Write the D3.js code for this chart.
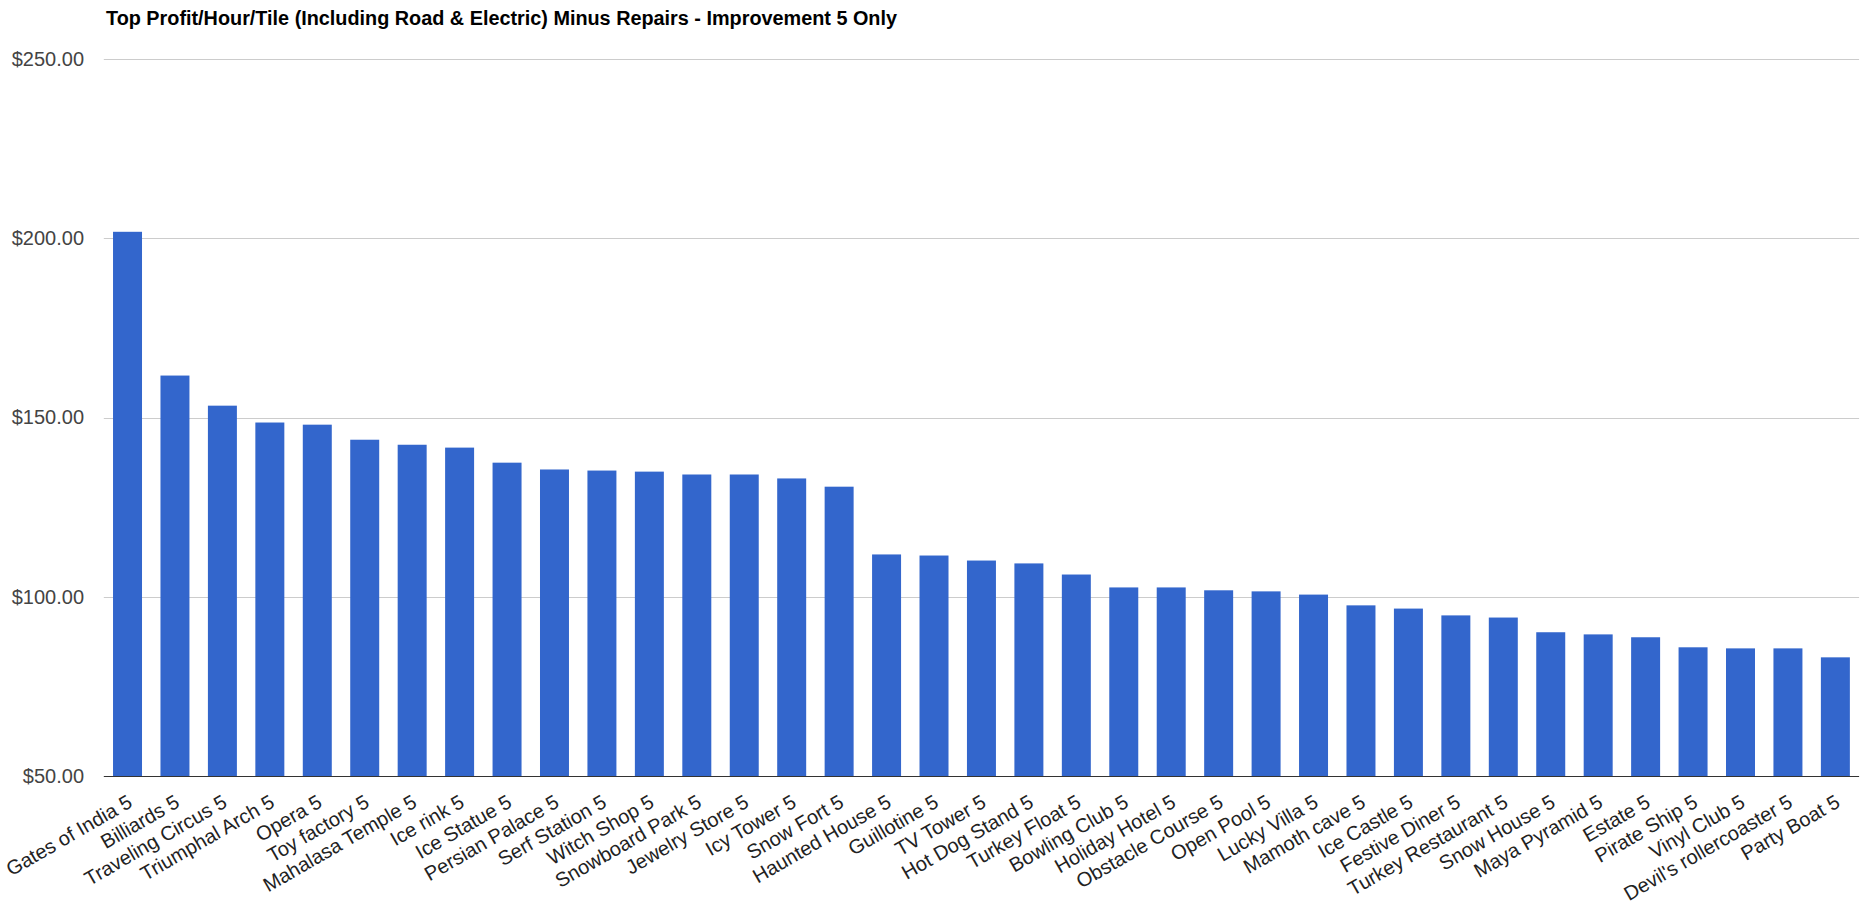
<!DOCTYPE html>
<html>
<head>
<meta charset="utf-8">
<script src="https://cdn.jsdelivr.net/npm/d3@7"></script>
<style>
  html, body { margin: 0; padding: 0; background: #fff; }
  svg { display: block; }
</style>
</head>
<body>
<svg id="chart" width="1868" height="904"></svg>
<script>
const chartTitle = "Top Profit/Hour/Tile (Including Road & Electric) Minus Repairs - Improvement 5 Only";

const categories = [
  "Gates of India 5", "Billiards 5", "Traveling Circus 5", "Triumphal Arch 5", "Opera 5",
  "Toy factory 5", "Mahalasa Temple 5", "Ice rink 5", "Ice Statue 5", "Persian Palace 5",
  "Serf Station 5", "Witch Shop 5", "Snowboard Park 5", "Jewelry Store 5", "Icy Tower 5",
  "Snow Fort 5", "Haunted House 5", "Guillotine 5", "TV Tower 5", "Hot Dog Stand 5",
  "Turkey Float 5", "Bowling Club 5", "Holiday Hotel 5", "Obstacle Course 5", "Open Pool 5",
  "Lucky Villa 5", "Mamoth cave 5", "Ice Castle 5", "Festive Diner 5", "Turkey Restaurant 5",
  "Snow House 5", "Maya Pyramid 5", "Estate 5", "Pirate Ship 5", "Vinyl Club 5",
  "Devil's rollercoaster 5", "Party Boat 5"
];

const values = [
  201.8, 161.7, 153.3, 148.6, 148.0,
  143.8, 142.4, 141.6, 137.4, 135.5,
  135.2, 134.9, 134.1, 134.1, 133.0,
  130.7, 111.8, 111.5, 110.1, 109.3,
  106.2, 102.6, 102.6, 101.8, 101.5,
  100.6, 97.6, 96.7, 94.8, 94.2,
  90.1, 89.5, 88.7, 85.9, 85.6,
  85.6, 83.1
];

const yTicks = [50, 100, 150, 200, 250];
const yDomain = [50, 250];

const svg = d3.select("#chart");
const plotLeft = 103.8, plotRight = 1859.1, plotTop = 59, plotBottom = 776;

const x = d3.scaleBand()
  .domain(categories)
  .range([plotLeft, plotRight])
  .paddingInner(0.389)
  .paddingOuter(0.1945);

const y = d3.scaleLinear().domain(yDomain).range([plotBottom, plotTop]);
const fmt = d => "$" + d3.format(",.2f")(d);

// gridlines
svg.append("g")
  .selectAll("line")
  .data(yTicks.filter(t => t !== yDomain[0]))
  .join("line")
  .attr("x1", plotLeft).attr("x2", plotRight)
  .attr("y1", d => Math.round(y(d)) + 0.5)
  .attr("y2", d => Math.round(y(d)) + 0.5)
  .attr("stroke", "#cccccc")
  .attr("stroke-width", 1);

// y axis labels via d3 axis
const yAxis = d3.axisLeft(y).tickValues(yTicks).tickFormat(fmt).tickSize(0).tickPadding(0);
const yg = svg.append("g").attr("transform", "translate(84,0)").call(yAxis);
yg.select(".domain").remove();
yg.selectAll("text")
  .attr("font-family", "Arial, 'Liberation Sans', sans-serif")
  .attr("font-size", 20)
  .attr("fill", "#444444");

// bars
svg.append("g")
  .selectAll("rect")
  .data(values)
  .join("rect")
  .attr("x", (d, i) => x(categories[i]))
  .attr("width", x.bandwidth())
  .attr("y", d => y(d))
  .attr("height", d => y(yDomain[0]) - y(d))
  .attr("fill", "#3366cc");

// baseline
svg.append("line")
  .attr("x1", plotLeft).attr("x2", plotRight)
  .attr("y1", plotBottom + 0.5).attr("y2", plotBottom + 0.5)
  .attr("stroke", "#333333")
  .attr("stroke-width", 1);

// x axis labels (rotated)
const xAxis = d3.axisBottom(x).tickSize(0).tickPadding(0);
const xg = svg.append("g").attr("transform", `translate(0,${plotBottom})`).call(xAxis);
xg.select(".domain").remove();
xg.selectAll(".tick text")
  .attr("font-family", "Arial, 'Liberation Sans', sans-serif")
  .attr("font-size", 20)
  .attr("fill", "#222222")
  .attr("text-anchor", "end")
  .attr("dy", null)
  .attr("x", null).attr("y", null)
  .attr("transform", "translate(6,30) rotate(-30)");

// title
const title = svg.append("text")
  .attr("x", 106)
  .attr("y", 25)
  .attr("font-family", "Arial, 'Liberation Sans', sans-serif")
  .attr("font-weight", "bold")
  .attr("font-size", 20)
  .attr("fill", "#000000")
  .text(chartTitle);
const tl = title.node().getComputedTextLength();
if (Math.abs(tl - 791) > 2) {
  title.attr("textLength", 791).attr("lengthAdjust", "spacingAndGlyphs");
}
</script>
</body>
</html>
